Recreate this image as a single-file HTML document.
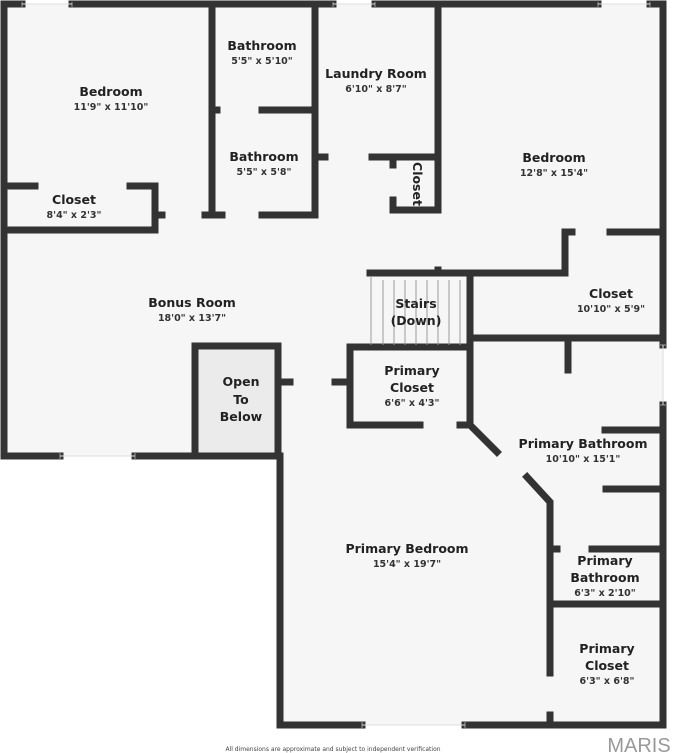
<!DOCTYPE html>
<html><head><style>
body{margin:0;background:#fff;}
svg{display:block;}
text{font-family:"DejaVu Sans","Liberation Sans",sans-serif;fill:#222;text-anchor:middle;}
.n{font-size:12.5px;font-weight:bold;}
.d{font-size:9.5px;font-weight:bold;fill:#333;}
</style></head><body>
<svg width="673" height="753" viewBox="0 0 673 753" xmlns="http://www.w3.org/2000/svg">
<polygon points="4,4 663,4 663,725 280,725 280,456 4,456" fill="#f6f6f6"/>
<rect x="195" y="346" width="83" height="110" fill="#ebebeb"/>
<g stroke="#333" stroke-width="7" fill="none" stroke-linecap="square">
<!-- outer -->
<path d="M4,4 H22 M72,4 H333 M375,4 H598 M650,4 H663 V345 M663,405 V725 H465 M362,725 H280 V456"/>
<path d="M4,4 V456 H60 M135,456 H280"/>
<!-- top middle -->
<path d="M212,4 V215 M315,4 V215 M438,4 V210 M438,270 V273"/>
<path d="M212,110 H217 M262,110 H315"/>
<path d="M155,215 H162 M205,215 H222 M262,215 H315"/>
<path d="M4,186 H35 M130,186 H155 V230 H4"/>
<path d="M315,157 H325 M372,157 H438"/>
<path d="M393,157 V165 M393,200 V210 H438"/>
<!-- stairs / right -->
<path d="M370,273 H565 V232 H572 M610,232 H663"/>
<path d="M470,273 V425 M470,338 H663"/>
<path d="M350,347 H470 M350,347 V425 H420 M460,425 H470"/>
<path d="M195,346 H278 V456 M195,346 V456"/>
<path d="M280,382 H290 M335,382 H350"/>
<path d="M568,338 V370"/>
<path d="M605,430 H663 M606,489 H663"/>
<path d="M470,425 L497,452 M527,477 L550,502 V673 M550,715 V725"/>
<path d="M550,549 H557 M592,549 H663 M550,604 H663"/>
</g>
<g stroke="#999" stroke-width="1" fill="none">
<path d="M371,276 V345 M383,280 V345 M394,280 V345 M405,280 V345 M416,280 V345 M427,280 V345 M438,280 V345 M449,280 V345 M460,280 V345"/>
<path d="M22,2 V7 M72,2 V7 M333,2 V7 M375,2 V7 M598,2 V7 M650,2 V7 M60,453 V459 M135,453 V459 M362,722 V728 M465,722 V728 M660,345 H666 M660,405 H666"/>
</g>
<g stroke="#ddd" stroke-width="1">
<path d="M22,4 H72 M333,4 H375 M598,4 H650 M60,456 H135 M362,725 H465 M663,345 V405"/>
</g>
<text class="n" x="111" y="96">Bedroom</text><text class="d" x="111" y="110">11'9" x 11'10"</text>
<text class="n" x="262" y="50">Bathroom</text><text class="d" x="262" y="64">5'5" x 5'10"</text>
<text class="n" x="264" y="161">Bathroom</text><text class="d" x="264" y="175">5'5" x 5'8"</text>
<text class="n" x="376" y="78">Laundry Room</text><text class="d" x="376" y="92">6'10" x 8'7"</text>
<text class="n" x="413" y="184" transform="rotate(90 413 184)">Closet</text>
<text class="n" x="554" y="162">Bedroom</text><text class="d" x="554" y="176">12'8" x 15'4"</text>
<text class="n" x="74" y="204">Closet</text><text class="d" x="74" y="218">8'4" x 2'3"</text>
<text class="n" x="192" y="307">Bonus Room</text><text class="d" x="192" y="321">18'0" x 13'7"</text>
<text class="n" x="416" y="308">Stairs</text><text class="n" x="416" y="325">(Down)</text>
<text class="n" x="611" y="298">Closet</text><text class="d" x="611" y="312">10'10" x 5'9"</text>
<text class="n" x="241" y="386">Open</text><text class="n" x="241" y="404">To</text><text class="n" x="241" y="421">Below</text>
<text class="n" x="412" y="375">Primary</text><text class="n" x="412" y="392">Closet</text><text class="d" x="412" y="406">6'6" x 4'3"</text>
<text class="n" x="583" y="448">Primary Bathroom</text><text class="d" x="583" y="462">10'10" x 15'1"</text>
<text class="n" x="407" y="553">Primary Bedroom</text><text class="d" x="407" y="567">15'4" x 19'7"</text>
<text class="n" x="605" y="565">Primary</text><text class="n" x="605" y="582">Bathroom</text><text class="d" x="605" y="596">6'3" x 2'10"</text>
<text class="n" x="607" y="653">Primary</text><text class="n" x="607" y="670">Closet</text><text class="d" x="607" y="684">6'3" x 6'8"</text>
<text x="333" y="751" style="font-size:6px;font-weight:normal;fill:#444">All dimensions are approximate and subject to independent verification</text>
<text x="639" y="752" style="font-size:20px;font-weight:normal;fill:#999;font-family:'Liberation Sans',sans-serif">MARIS</text>
</svg>
</body></html>
